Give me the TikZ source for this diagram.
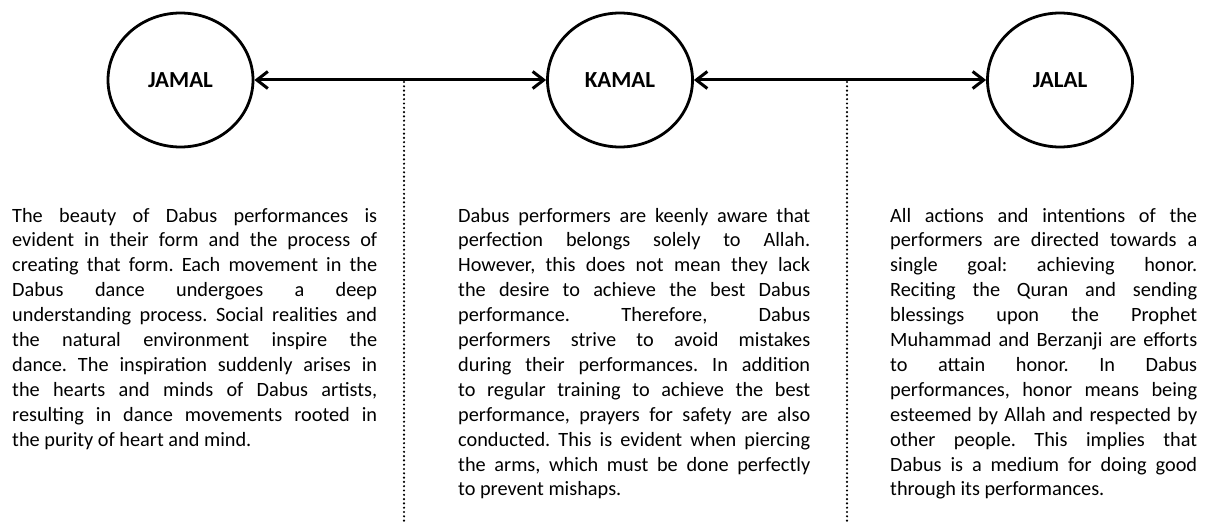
\documentclass[tikz,border=0pt]{standalone}
\usepackage{fontspec}
\setmainfont{Carlito}
\usetikzlibrary{arrows.meta,shapes.geometric}
\newcommand{\jtext}[2]{\parbox[t]{#1}{\spaceskip=0pt\xspaceskip=0pt\frenchspacing\tolerance=10000\hyphenpenalty=10000\parindent=0pt #2}}
\begin{document}
\begin{tikzpicture}[x=1pt,y=-1pt,
  circ/.style={ellipse, draw, line width=2.8pt, minimum width=145pt, minimum height=134pt, inner sep=0pt, font=\fontsize{23}{27}\selectfont\bfseries},
  link/.style={line width=3pt, {Straight Barb[length=11pt,width=17pt,line width=3pt]}-{Straight Barb[length=11pt,width=17pt,line width=3pt]}},
  sep/.style={line width=2.4pt, line cap=round, dash pattern=on 0pt off 4.3pt},
  para/.style={anchor=base west, inner sep=0pt, font=\fontsize{20.3}{24.9}\selectfont}]
\path[use as bounding box] (0,0) rectangle (1207,524);

\node[circ] (jamal) at (180.5,80) {JAMAL};
\node[circ] (kamal) at (620,80) {KAMAL};
\node[circ] (jalal) at (1060,80) {JALAL};

\draw[link] (jamal) -- (kamal);
\draw[link] (kamal) -- (jalal);

\coordinate (d1) at (404,82);
\coordinate (d1b) at (404,522);
\coordinate (d2) at (847,82);
\coordinate (d2b) at (847,522);
\draw[sep] (d1) -- (d1b);
\draw[sep] (d2) -- (d2b);

\node[para] (jamaltext) at (12,222) {\jtext{365pt}{%
The beauty of Dabus performances is\linebreak
evident in their form and the process of\linebreak
creating that form. Each movement in the\linebreak
Dabus dance undergoes a deep\linebreak
understanding process. Social realities and\linebreak
the natural environment inspire the\linebreak
dance. The inspiration suddenly arises in\linebreak
the hearts and minds of Dabus artists,\linebreak
resulting in dance movements rooted in\linebreak
the purity of heart and mind.}};

\node[para] (kamaltext) at (458,222) {\jtext{352pt}{%
Dabus performers are keenly aware that\linebreak
perfection belongs solely to Allah.\linebreak
However, this does not mean they lack\linebreak
the desire to achieve the best Dabus\linebreak
performance. Therefore, Dabus\linebreak
performers strive to avoid mistakes\linebreak
during their performances. In addition\linebreak
to regular training to achieve the best\linebreak
performance, prayers for safety are also\linebreak
conducted. This is evident when piercing\linebreak
the arms, which must be done perfectly\linebreak
to prevent mishaps.}};

\node[para] (jalaltext) at (890,222) {\jtext{307pt}{%
All actions and intentions of the\linebreak
performers are directed towards a\linebreak
single goal: achieving honor.\linebreak
Reciting the Quran and sending\linebreak
blessings upon the Prophet\linebreak
Muhammad and Berzanji are efforts\linebreak
to attain honor. In Dabus\linebreak
performances, honor means being\linebreak
esteemed by Allah and respected by\linebreak
other people. This implies that\linebreak
Dabus is a medium for doing good\linebreak
through its performances.}};
\end{tikzpicture}
\end{document}
